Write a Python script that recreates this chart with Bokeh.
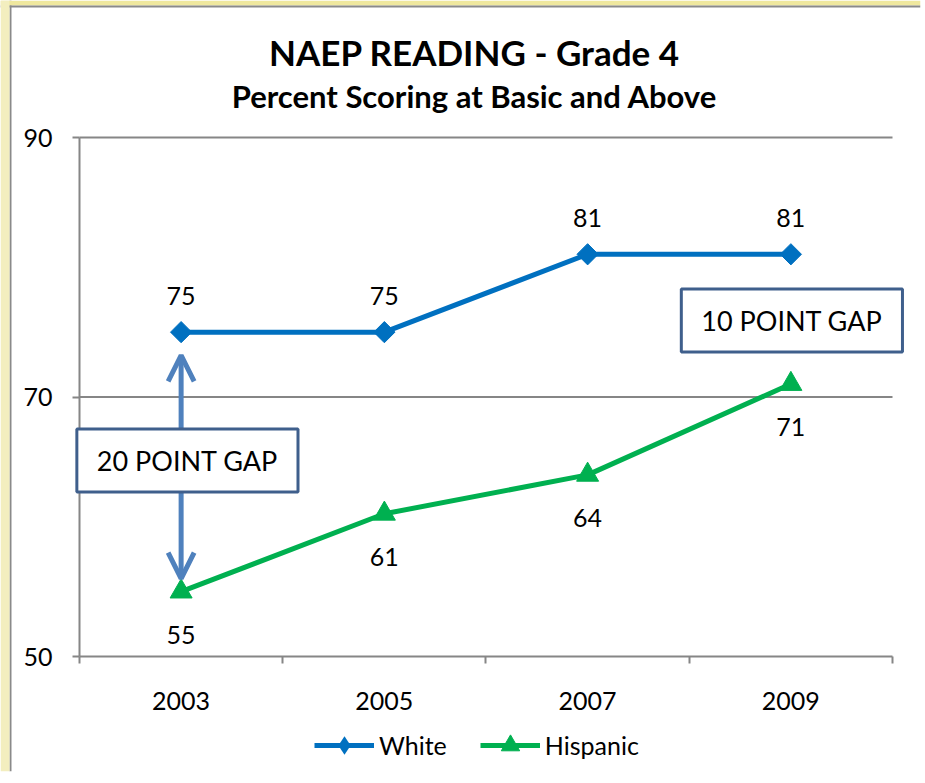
from bokeh.plotting import figure
from bokeh.models import (Range1d, FixedTicker, ColumnDataSource, LabelSet, Label,
                          Arrow, OpenHead, Legend, LegendItem, Span, BoxAnnotation)
from bokeh.embed import file_html
from bokeh.resources import INLINE
from bokeh.core.properties import value

# ---- data ----
years = ["2003", "2005", "2007", "2009"]
white = [75, 75, 81, 81]
hispanic = [55, 61, 64, 71]
y_ticks = [50, 70, 90]
title_text = "NAEP READING - Grade 4"
subtitle_text = "Percent Scoring at Basic and Above"
gap_start_text = "20 POINT GAP"
gap_end_text = "10 POINT GAP"

FONT = "Lato"
GREY = "#868686"
EDGE = "#8a8a8a"
PAGE_TOP = "#efe89e"
PAGE_SIDE = "#f3eebf"
BLUE = "#0070c0"
GREEN = "#00b050"
ARROW = "#4f81bd"
BOXLINE = "#3f5f8c"
TICK_FS = "25px"

n = len(years)
xs = [i + 0.5 for i in range(n)]
y0, y1 = y_ticks[0], y_ticks[-1]

# the frame covers the whole canvas; axes are pinned at x=0 / y=50
p = figure(frame_width=920, frame_height=771, output_backend="svg", toolbar_location=None,
           y_axis_location="right",
           x_range=Range1d(-0.38868, 4.13777), y_range=Range1d(41.137, 100.559),
           min_border_left=0, min_border_right=5, min_border_top=0, min_border_bottom=12,
           background_fill_color="white", border_fill_color="white", outline_line_color=None)
p.title.visible = False
p.xgrid.visible = False
p.ygrid.visible = False

# page margin and card edge
p.add_layout(Span(location=-0.33948, dimension="height", line_color=EDGE, line_width=2))
p.add_layout(BoxAnnotation(bottom=100.173, fill_color=PAGE_TOP, fill_alpha=1.0, line_color=None))
p.add_layout(Span(location=100.096, dimension="width", line_color=EDGE, line_width=2))
p.add_layout(BoxAnnotation(right=-0.3444, fill_color=PAGE_SIDE, fill_alpha=1.0, line_color=None))

# x axis (category boundaries as ticks)
xa = p.xaxis[0]
xa.fixed_location = y0
xa.bounds = (0, n)
xa.ticker = FixedTicker(ticks=xs, minor_ticks=list(range(n + 1)))
xa.major_label_overrides = {x: "" for x in xs}
xa.major_label_text_font_size = "1px"
xa.major_label_standoff = 0
xa.major_tick_out = 0
xa.major_tick_in = 0
xa.minor_tick_out = 7
xa.minor_tick_in = 0
xa.minor_tick_line_color = GREY
xa.minor_tick_line_width = 2
xa.axis_line_color = GREY
xa.axis_line_width = 2

# y axis (ticks pointing left of the axis line)
ya = p.yaxis[0]
ya.fixed_location = 0
ya.bounds = (y0, y1)
ya.ticker = FixedTicker(ticks=y_ticks, minor_ticks=[])
ya.major_label_overrides = {t: "" for t in y_ticks}
ya.major_label_text_font_size = "1px"
ya.major_label_standoff = 0
ya.major_tick_out = 0
ya.major_tick_in = 7
ya.major_tick_line_color = GREY
ya.major_tick_line_width = 2
ya.axis_line_color = GREY
ya.axis_line_width = 2

# horizontal grid lines (from the y ticks, spanning the category axis)
grid_src = ColumnDataSource(dict(x0=[0] * (len(y_ticks) - 1), x1=[n] * (len(y_ticks) - 1),
                                 y=y_ticks[1:]))
p.segment(x0="x0", x1="x1", y0="y", y1="y", source=grid_src, line_color=GREY, line_width=2)

# tick labels
ytick_src = ColumnDataSource(dict(x=[0] * len(y_ticks), y=y_ticks, t=[str(t) for t in y_ticks]))
p.add_layout(LabelSet(x="x", y="y", text="t", source=ytick_src, x_offset=-27,
                      text_align="right", text_baseline="middle",
                      text_font=value(FONT), text_font_size=TICK_FS, text_color="black"))
cat_src = ColumnDataSource(dict(x=xs, y=[y0] * n, t=years))
p.add_layout(LabelSet(x="x", y="y", text="t", source=cat_src, y_offset=-44,
                      text_align="center", text_baseline="middle",
                      text_font=value(FONT), text_font_size=TICK_FS, text_color="black"))

# titles
p.add_layout(Label(x=1.9434, y=96.628, text=title_text, text_align="center",
                   text_baseline="middle", text_font=FONT, text_font_size="35px",
                   text_font_style="bold", text_color="black"))
p.add_layout(Label(x=1.9434, y=93.23, text=subtitle_text, text_align="center",
                   text_baseline="middle", text_font=FONT, text_font_size="31px",
                   text_font_style="bold", text_color="black"))

# series
src_w = ColumnDataSource(dict(x=xs, y=white, t=[str(v) for v in white]))
src_h = ColumnDataSource(dict(x=xs, y=hispanic, t=[str(v) for v in hispanic]))

lw = p.line("x", "y", source=src_w, line_color=BLUE, line_width=5)
mw = p.scatter("x", "y", source=src_w, marker="square", angle=0.785398, size=15,
               fill_color=BLUE, line_color=BLUE)
mw_key = p.scatter("x", "y", source=src_w, marker="diamond", size=0,
                   fill_color=BLUE, line_color=None)
lh = p.line("x", "y", source=src_h, line_color=GREEN, line_width=5)
mh = p.scatter("x", "y", source=src_h, marker="triangle", size=22,
               fill_color=GREEN, line_color=GREEN)

p.add_layout(LabelSet(x="x", y="y", text="t", source=src_w, y_offset=36,
                      text_align="center", text_baseline="middle",
                      text_font=value(FONT), text_font_size=TICK_FS, text_color="black"))
p.add_layout(LabelSet(x="x", y="y", text="t", source=src_h, y_offset=-43,
                      text_align="center", text_baseline="middle",
                      text_font=value(FONT), text_font_size=TICK_FS, text_color="black"))

# gap annotations
p.add_layout(Arrow(start=OpenHead(size=26, line_color=ARROW, line_width=5),
                   end=OpenHead(size=26, line_color=ARROW, line_width=5),
                   x_start=xs[0], y_start=73.2, x_end=xs[0], y_end=56.0,
                   line_color=ARROW, line_width=5))
p.add_layout(Label(x=0.531, y=65.1, text=gap_start_text, text_align="center",
                   text_baseline="middle", text_font=FONT, text_font_size="27px",
                   text_color="black", padding=dict(x=20, y=15),
                   background_fill_color="white", background_fill_alpha=1.0,
                   border_line_color=BOXLINE, border_line_width=3))
p.add_layout(Label(x=3.505, y=75.9, text=gap_end_text, text_align="center",
                   text_baseline="middle", text_font=FONT, text_font_size="27px",
                   text_color="black", padding=dict(x=20, y=15),
                   background_fill_color="white", background_fill_alpha=1.0,
                   border_line_color=BOXLINE, border_line_width=3))

# legend (inside the frame, below the x axis)
legend = Legend(items=[LegendItem(label="White", renderers=[lw, mw_key]),
                       LegendItem(label="Hispanic", renderers=[lh, mh])],
                orientation="horizontal", location=(314, 3),
                label_text_font=FONT, label_text_font_size=TICK_FS, label_text_color="black",
                glyph_width=60, glyph_height=46, label_standoff=5, spacing=33,
                padding=0, margin=0, border_line_color=None,
                background_fill_alpha=0)
p.add_layout(legend, "center")

open("out.html", "w").write(file_html(p, INLINE))
